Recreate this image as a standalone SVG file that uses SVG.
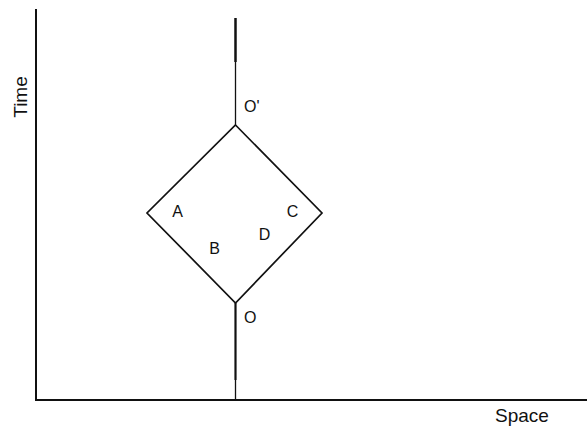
<svg xmlns="http://www.w3.org/2000/svg" width="587" height="427" viewBox="0 0 587 427">
<style>
.ln{stroke:#111;fill:none;stroke-linecap:butt;stroke-linejoin:miter}
.lbl{font-family:"Liberation Sans",Arial,sans-serif;font-size:16px;fill:#111}
.ax{font-family:"Liberation Sans",Arial,sans-serif;font-size:19px;fill:#111}
</style>
<rect width="587" height="427" fill="#fff"/>
<g id="axes">
<path class="ln" d="M36,9 V400 H587" stroke-width="2"/>
<text class="ax" transform="translate(27,97) rotate(-90)" text-anchor="middle">Time</text>
<text class="ax" x="495" y="422">Space</text>
</g>
<g id="connectors">
<path class="ln" d="M235.5,18 V62" stroke-width="2.5"/>
<path class="ln" d="M235.5,62 V125" stroke-width="1.3"/>
<path class="ln" d="M235.5,303 V380" stroke-width="2.2"/>
<path class="ln" d="M235.5,380 V400" stroke-width="1.3"/>
</g>
<g id="diamond">
<path class="ln" d="M235.5,125 L322,213 L235.5,303 L147,213 Z" stroke-width="1.7"/>
</g>
<g id="labels">
<text class="lbl" x="244" y="112">O'</text>
<text class="lbl" x="244" y="323">O</text>
<text class="lbl" x="177.5" y="217" text-anchor="middle">A</text>
<text class="lbl" x="214.5" y="254" text-anchor="middle">B</text>
<text class="lbl" x="292.5" y="217" text-anchor="middle">C</text>
<text class="lbl" x="264.5" y="240" text-anchor="middle">D</text>
</g>
</svg>
